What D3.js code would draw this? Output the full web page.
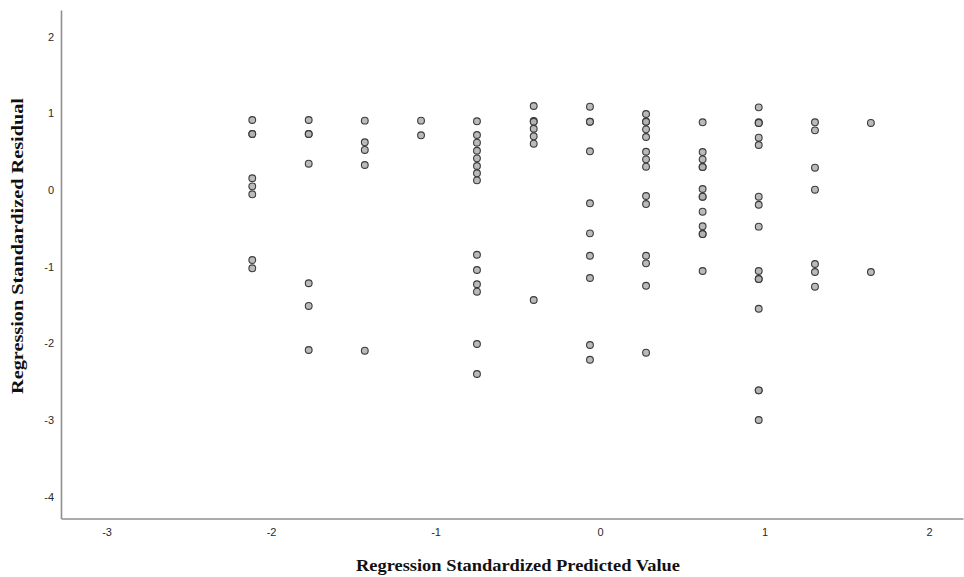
<!DOCTYPE html>
<html>
<head>
<meta charset="utf-8">
<script src="https://cdn.jsdelivr.net/npm/d3@7"></script>
<style>
  html, body { margin: 0; padding: 0; background: #fff; }
  svg { display: block; }
</style>
</head>
<body>
<svg id="chart" width="964" height="577"></svg>
<script>
// ---- Data ----
const predictedLevels = [-2.114, -1.771, -1.430, -1.088, -0.748, -0.403, -0.061, 0.280, 0.624, 0.965, 1.307, 1.647];
const residualsByLevel = [
  [0.913, 0.730, 0.730, 0.153, 0.048, -0.056, -0.913, -1.021],
  [0.913, 0.730, 0.730, 0.343, -1.216, -1.512, -2.086],
  [0.904, 0.622, 0.522, 0.326, -2.095],
  [0.904, 0.713],
  [0.896, 0.717, 0.617, 0.512, 0.413, 0.313, 0.218, 0.126, -0.844, -1.043, -1.229, -1.326, -2.008, -2.399],
  [1.095, 0.900, 0.890, 0.799, 0.700, 0.604, -1.434],
  [1.086, 0.890, 0.890, 0.505, -0.173, -0.565, -0.857, -1.147, -2.021, -2.213],
  [0.991, 0.890, 0.890, 0.791, 0.691, 0.499, 0.400, 0.304, -0.078, -0.183, -0.857, -0.956, -1.248, -2.121],
  [0.883, 0.495, 0.400, 0.300, 0.300, 0.013, -0.087, -0.087, -0.283, -0.473, -0.574, -0.574, -1.056],
  [1.078, 0.883, 0.874, 0.874, 0.682, 0.587, -0.087, -0.192, -0.478, -1.056, -1.160, -1.160, -1.548, -2.612, -2.612, -2.999],
  [0.883, 0.778, 0.291, 0.004, -0.965, -1.069, -1.261],
  [0.874, -1.069]
];
const xTicks = [-3, -2, -1, 0, 1, 2];
const yTicks = [2, 1, 0, -1, -2, -3, -4];
const xTitle = "Regression Standardized Predicted Value";
const yTitle = "Regression Standardized Residual";

// ---- Layout ----
const svg = d3.select("#chart");
const plotLeft = 61, plotRight = 963, plotTop = 10, plotBottom = 518.5;

const x = d3.scaleLinear().domain([-3.277, 2.207]).range([plotLeft, plotRight]);
const y = d3.scaleLinear().domain([-4.283, 2.347]).range([plotBottom, plotTop]);

const points = [];
predictedLevels.forEach((p, i) => {
  residualsByLevel[i].forEach(r => points.push({ p, r }));
});

const hyphenFormat = d => String(d);

// axes
const xAxis = d3.axisBottom(x).tickValues(xTicks).tickSize(0).tickPadding(10).tickFormat(hyphenFormat);
const yAxis = d3.axisLeft(y).tickValues(yTicks).tickSize(0).tickPadding(7).tickFormat(hyphenFormat);

const gx = svg.append("g").attr("transform", `translate(0,${plotBottom})`).call(xAxis);
const gy = svg.append("g").attr("transform", `translate(${plotLeft},0)`).call(yAxis);

[gx, gy].forEach(g => {
  g.select(".domain").attr("stroke", "#8f8f8f").attr("stroke-width", 1.6);
  g.selectAll(".tick text")
    .attr("fill", "#2a2a2a")
    .style("font-family", "'Liberation Sans', Arial, sans-serif")
    .style("font-size", "11px");
});

// points
svg.append("g").selectAll("circle")
  .data(points)
  .join("circle")
  .attr("cx", d => x(d.p))
  .attr("cy", d => y(d.r))
  .attr("r", 3.4)
  .attr("fill", "#b3b3b3")
  .attr("fill-opacity", 0.9)
  .attr("stroke", "#3a3a3a")
  .attr("stroke-width", 1.1);

// titles
svg.append("text")
  .attr("x", 518)
  .attr("y", 571)
  .attr("text-anchor", "middle")
  .attr("textLength", 324)
  .attr("lengthAdjust", "spacingAndGlyphs")
  .style("font-family", "'Liberation Serif', 'Times New Roman', serif")
  .style("font-weight", "bold")
  .style("font-size", "16px")
  .attr("fill", "#111")
  .text(xTitle);

svg.append("text")
  .attr("transform", "translate(23,246) rotate(-90)")
  .attr("text-anchor", "middle")
  .attr("textLength", 296)
  .attr("lengthAdjust", "spacingAndGlyphs")
  .style("font-family", "'Liberation Serif', 'Times New Roman', serif")
  .style("font-weight", "bold")
  .style("font-size", "16px")
  .attr("fill", "#111")
  .text(yTitle);
</script>
</body>
</html>
